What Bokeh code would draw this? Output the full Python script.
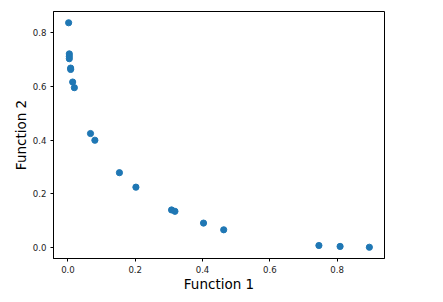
from bokeh.plotting import figure
from bokeh.models import FixedTicker, PrintfTickFormatter, Range1d
from bokeh.embed import file_html
from bokeh.resources import INLINE

f1 = [0.002, 0.004, 0.004, 0.004, 0.008, 0.008, 0.014, 0.019, 0.067, 0.080,
      0.153, 0.202, 0.308, 0.318, 0.403, 0.463, 0.746, 0.809, 0.896]
f2 = [0.838, 0.722, 0.713, 0.704, 0.669, 0.664, 0.617, 0.596, 0.425, 0.400,
      0.279, 0.225, 0.140, 0.135, 0.091, 0.066, 0.0075, 0.004, 0.001]
ticks = [0.0, 0.2, 0.4, 0.6, 0.8]
x_label = "Function 1"
y_label = "Function 2"

p = figure(width=443, height=302, output_backend="svg", toolbar_location=None,
           x_range=Range1d(-0.043, 0.941), y_range=Range1d(-0.041, 0.880),
           min_border_left=53, min_border_right=59, min_border_top=11, min_border_bottom=44)

p.scatter(f1, f2, size=6.2, color="#1f77b4", line_color="#1f77b4")

p.grid.visible = False
p.outline_line_color = "black"
p.outline_line_width = 1
p.background_fill_color = "white"
p.border_fill_color = "white"

for ax in (p.xaxis[0], p.yaxis[0]):
    ax.ticker = FixedTicker(ticks=ticks)
    ax.formatter = PrintfTickFormatter(format="%.1f")
    ax.axis_line_color = "black"
    ax.major_tick_line_color = "black"
    ax.major_tick_in = 0
    ax.major_tick_out = 3
    ax.minor_tick_line_color = None
    ax.major_label_text_font = "DejaVu Sans"
    ax.major_label_text_font_size = "8.6px"
    ax.major_label_text_color = "#222222"
    ax.major_label_standoff = 4
    ax.axis_label_text_font = "DejaVu Sans"
    ax.axis_label_text_font_size = "13.5px"
    ax.axis_label_text_font_style = "normal"
    ax.axis_label_text_color = "black"

p.xaxis.axis_label = x_label
p.yaxis.axis_label = y_label
p.xaxis.axis_label_standoff = 0
p.yaxis.axis_label_standoff = 1

open("out.html", "w").write(file_html(p, INLINE))
